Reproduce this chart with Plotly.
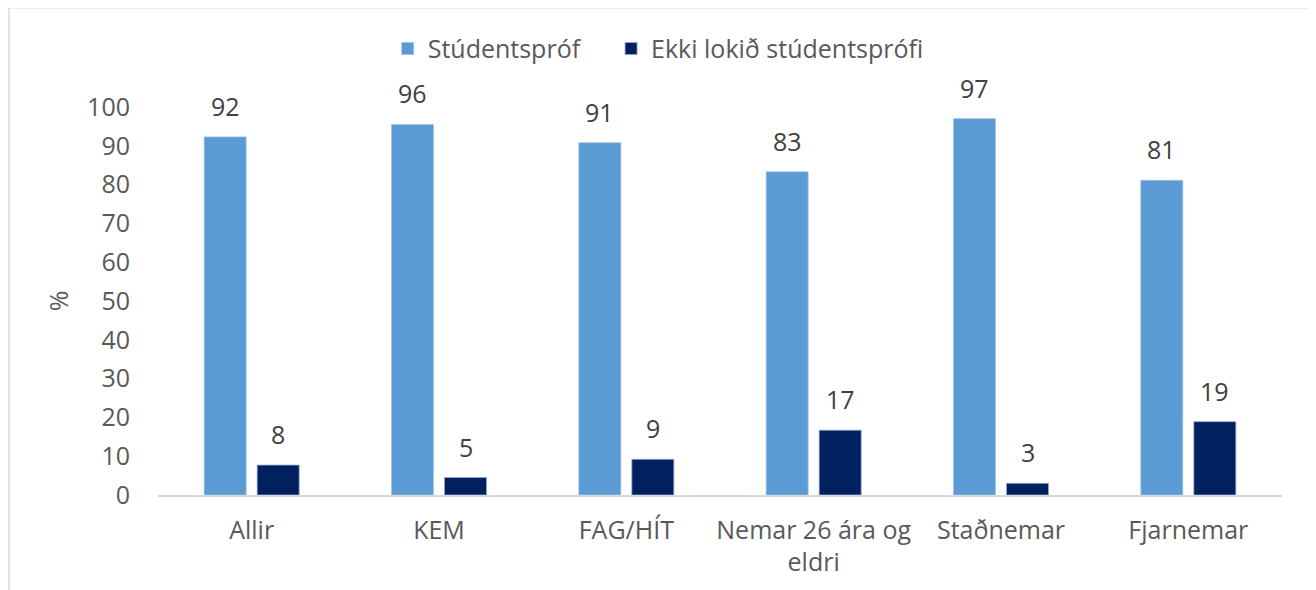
import plotly.graph_objects as go

categories = ["Allir", "KEM", "FAG/HÍT", "Nemar 26 ára og<br>eldri", "Staðnemar", "Fjarnemar"]
studentsprof = [92.3, 95.5, 90.8, 83.3, 97.0, 81.1]
ekki_lokid = [7.7, 4.5, 9.2, 16.7, 3.0, 18.9]
studentsprof_labels = ["92", "96", "91", "83", "97", "81"]
ekki_lokid_labels = ["8", "5", "9", "17", "3", "19"]
y_ticks = [0, 10, 20, 30, 40, 50, 60, 70, 80, 90, 100]

FONT = "Open Sans"
GREY = "#595959"
LABEL = "#404040"

fig = go.Figure()
fig.add_trace(go.Bar(name="Stúdentspróf" + "\u00a0" * 4, x=categories, y=studentsprof,
                     marker=dict(color="#5B9BD5", line=dict(color="#9DC3E6", width=0.8))))
fig.add_trace(go.Bar(name="Ekki lokið stúdentsprófi", x=categories, y=ekki_lokid,
                     marker=dict(color="#002060", line=dict(color="#8FA9C8", width=0.8))))

annotations = []
for cat, v, t in zip(categories, studentsprof, studentsprof_labels):
    annotations.append(dict(x=cat, y=v, text=t, xshift=-26.5, yshift=12, showarrow=False,
                            yanchor="bottom", font=dict(family=FONT, size=25, color=LABEL)))
for cat, v, t in zip(categories, ekki_lokid, ekki_lokid_labels):
    annotations.append(dict(x=cat, y=v, text=t, xshift=26.5, yshift=12, showarrow=False,
                            yanchor="bottom", font=dict(family=FONT, size=25, color=LABEL)))

# The page body has an 8px default margin, so margins are reduced on top/left accordingly.
fig.update_layout(
    width=1316, height=590,
    margin=dict(l=150, r=42, t=99, b=103),
    paper_bgcolor="white", plot_bgcolor="white",
    barmode="group", bargap=0.434, bargroupgap=0.208,
    font=dict(family=FONT, size=25, color=GREY),
    showlegend=True,
    legend=dict(orientation="h", x=0.445, xanchor="center", y=1.15, yanchor="middle",
                font=dict(family=FONT, size=25, color=GREY), bgcolor="rgba(0,0,0,0)"),
    annotations=annotations,
    shapes=[dict(type="rect", xref="paper", yref="paper", x0=-0.1326, x1=1.0249,
                 y0=-0.3, y1=1.256, line=dict(color="#D9D9D9", width=1.5), layer="below")],
)
fig.update_xaxes(showline=True, linecolor="#D9D9D9", linewidth=1.5, showgrid=False,
                 ticks="", ticklabelstandoff=12, tickfont=dict(family=FONT, size=25, color=GREY))
fig.update_yaxes(range=[0, 100], tickvals=y_ticks, showgrid=False, showline=False, zeroline=False,
                 ticks="", ticklabelstandoff=27, tickfont=dict(family=FONT, size=25, color=GREY),
                 title=dict(text="%", standoff=11, font=dict(family=FONT, size=25, color=GREY)))

fig.write_html("out.html")
